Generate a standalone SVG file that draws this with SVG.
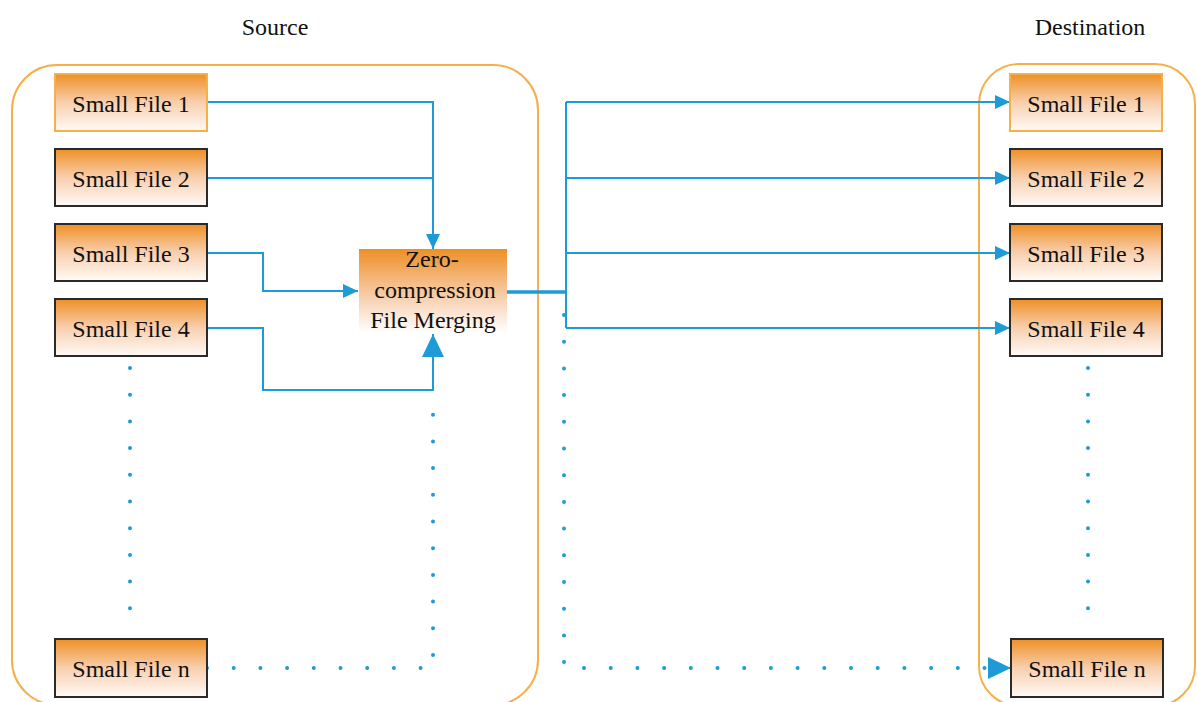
<svg xmlns="http://www.w3.org/2000/svg" width="1197" height="702" viewBox="0 0 1197 702">
<style>
.cont{fill:none;stroke:#F5B04A;stroke-width:2}
.box{fill:url(#og);stroke:#2a2a2a;stroke-width:2}
.box1{fill:url(#og);stroke:#F5B04A;stroke-width:2}
.t{font-family:"Liberation Serif","Times New Roman",serif;font-size:24px;fill:#111;text-anchor:middle}
.ln{fill:none;stroke:#1E9BD7;stroke-width:2}
.thick{fill:none;stroke:#1E9BD7;stroke-width:3.5}
.dot{fill:none;stroke:#1E9BD7;stroke-width:4;stroke-linecap:round;stroke-dasharray:0 26.7}
</style>
<defs>
<linearGradient id="og" x1="0" y1="0" x2="0" y2="1">
<stop offset="0" stop-color="#EE8F25"/>
<stop offset="0.5" stop-color="#F8CFAE"/>
<stop offset="1" stop-color="#FFFAF6"/>
</linearGradient>
<linearGradient id="zg" x1="0" y1="0" x2="0" y2="1">
<stop offset="0" stop-color="#EE8F25"/>
<stop offset="0.6" stop-color="#F8D2B4"/>
<stop offset="1" stop-color="#FFFFFF"/>
</linearGradient>
<marker id="a" markerWidth="15" markerHeight="14" refX="15" refY="7" orient="auto" markerUnits="userSpaceOnUse">
<path d="M0,0 L15,7 L0,14 Z" fill="#1E9BD7"/>
</marker>
<marker id="ab" markerWidth="23" markerHeight="22" refX="23" refY="11" orient="auto" markerUnits="userSpaceOnUse">
<path d="M0,0 L23,11 L0,22 Z" fill="#1E9BD7"/>
</marker>
</defs>
<rect width="1197" height="702" fill="#fff"/>
<text class="t" x="275" y="35">Source</text>
<text class="t" x="1090" y="35">Destination</text>
<rect class="cont" x="12" y="65" width="526" height="640" rx="45"/>
<rect class="cont" x="979" y="64" width="216" height="642" rx="40"/>
<g id="connectors">
<path class="ln" d="M207,102 H433 V249" marker-end="url(#a)"/>
<path class="ln" d="M207,178 H433"/>
<path class="ln" d="M207,253 H263 V291 H358" marker-end="url(#a)"/>
<path class="ln" d="M207,328 H263 V390 H433 V334" marker-end="url(#ab)"/>
<path class="dot" d="M130,368 V610"/>
<path class="dot" d="M207,668 H425"/>
<path class="dot" d="M433,655 V413"/>
<path class="thick" d="M507,292 H566"/>
<path class="ln" d="M566,102 V328"/>
<path class="ln" d="M566,102 H1010" marker-end="url(#a)"/>
<path class="ln" d="M566,178 H1010" marker-end="url(#a)"/>
<path class="ln" d="M566,253 H1010" marker-end="url(#a)"/>
<path class="ln" d="M566,328 H1010" marker-end="url(#a)"/>
<path class="dot" d="M564,315 V664"/>
<path class="dot" d="M584,668 H988"/>
<path class="ln" d="M988,668 H1011" marker-end="url(#ab)"/>
<path class="dot" d="M1088,368 V610"/>
</g>
<g id="src1"><rect class="box1" x="55" y="74" width="152" height="57"/><text class="t" x="131" y="112">Small File 1</text></g>
<g id="src2"><rect class="box" x="55" y="149" width="152" height="57"/><text class="t" x="131" y="187">Small File 2</text></g>
<g id="src3"><rect class="box" x="55" y="224" width="152" height="57"/><text class="t" x="131" y="262">Small File 3</text></g>
<g id="src4"><rect class="box" x="55" y="299" width="152" height="57"/><text class="t" x="131" y="337">Small File 4</text></g>
<g id="srcn"><rect class="box" x="55" y="639" width="152" height="58"/><text class="t" x="131" y="677">Small File n</text></g>
<g id="merge"><rect x="359" y="249" width="148" height="84" fill="url(#zg)"/>
<text class="t" x="432" y="267">Zero-</text>
<text class="t" x="435" y="298">compression</text>
<text class="t" x="433" y="328">File Merging</text></g>
<g id="dst1"><rect class="box1" x="1010" y="74" width="152" height="57"/><text class="t" x="1086" y="112">Small File 1</text></g>
<g id="dst2"><rect class="box" x="1010" y="149" width="152" height="57"/><text class="t" x="1086" y="187">Small File 2</text></g>
<g id="dst3"><rect class="box" x="1010" y="224" width="152" height="57"/><text class="t" x="1086" y="262">Small File 3</text></g>
<g id="dst4"><rect class="box" x="1010" y="299" width="152" height="57"/><text class="t" x="1086" y="337">Small File 4</text></g>
<g id="dstn"><rect class="box" x="1011" y="639" width="152" height="58"/><text class="t" x="1087" y="677">Small File n</text></g>
</svg>
